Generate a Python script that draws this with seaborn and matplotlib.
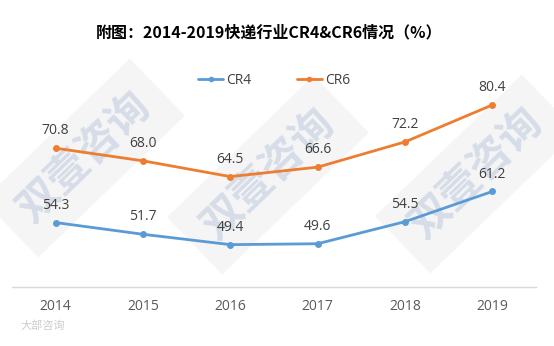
import matplotlib
matplotlib.use("Agg")
import matplotlib.pyplot as plt
import seaborn as sns
import pandas as pd

years = [2014, 2015, 2016, 2017, 2018, 2019]
cr4 = [54.3, 51.7, 49.4, 49.6, 54.5, 61.2]
cr6 = [70.8, 68.0, 64.5, 66.6, 72.2, 80.4]
series_names = ["CR4", "CR6"]
colors = ["#5B9BD5", "#ED7D31"]
title = "附图：2014-2019快递行业CR4&CR6情况（%）"
watermark = "双壹咨询"

sns.set_theme(style="white")
plt.rcParams["font.family"] = ["Open Sans", "Noto Sans CJK SC", "DejaVu Sans"]

df = pd.DataFrame({
    "year": years * 2,
    "value": cr4 + cr6,
    "series": [series_names[0]] * len(years) + [series_names[1]] * len(years),
})

fig = plt.figure(figsize=(5.54, 3.46), dpi=100)
ax = fig.add_axes([12 / 554, (346 - 287) / 346, (536 - 12) / 554, (287 - 61.7) / 346])
ax.set_zorder(2)
ax.patch.set_alpha(0)

# watermarks (behind the plot)
for (x, y) in [(84, 158), (268, 175), (476, 174)]:
    fig.text(x / 554, 1 - y / 346, watermark, rotation=44, ha="center", va="center",
             fontsize=30, fontweight="bold", color="#d6dde8",
             family=["Noto Sans CJK SC"], zorder=1,
             bbox=dict(boxstyle="square,pad=0.45", fc="#f5f5f5", ec="none"))

sns.lineplot(data=df, x="year", y="value", hue="series", palette=colors,
             marker="o", markersize=5, markeredgewidth=0, linewidth=2,
             ax=ax, legend=False, zorder=3)

for vals in (cr4, cr6):
    for x, v in zip(years, vals):
        ax.annotate(f"{v:.1f}", (x, v), xytext=(0, 12.5), textcoords="offset points",
                    ha="center", va="center", fontsize=10, color="#404040", zorder=4)

ax.set_xlim(years[0] - 0.5, years[-1] + 0.5)
ax.set_ylim(40, 90)
ax.set_xticks(years)
ax.set_xticklabels([str(y) for y in years])
ax.set_yticks([])
ax.set_xlabel("")
ax.set_ylabel("")
for s in ["top", "right", "left"]:
    ax.spines[s].set_visible(False)
ax.spines["bottom"].set_color("#d9d9d9")
ax.spines["bottom"].set_linewidth(1)
ax.tick_params(axis="x", length=0, pad=9, labelsize=10, labelcolor="#595959")

handles = [plt.Line2D([], [], color=c, lw=2, marker="o", markersize=4, markeredgewidth=0)
           for c in colors]
leg = fig.legend(handles, series_names, loc="center", bbox_to_anchor=(274 / 554, 1 - 80.7 / 346),
                 ncol=2, frameon=False, fontsize=10, handlelength=1.8, handletextpad=0.2,
                 columnspacing=3.3, labelcolor="#404040")
leg.set_zorder(3)

fig.text(269 / 554, 1 - 32.7 / 346, title, ha="center", va="center", fontsize=11.5,
         fontweight="bold", color="#000000", family=["Noto Sans CJK SC", "DejaVu Sans"], zorder=3)

fig.text(20 / 554, 1 - 326 / 346, "大部咨询", ha="left", va="center", fontsize=8,
         color="#cccccc", family=["Noto Sans CJK SC"], zorder=3)

fig.savefig("out.png", dpi=100, facecolor="white")
